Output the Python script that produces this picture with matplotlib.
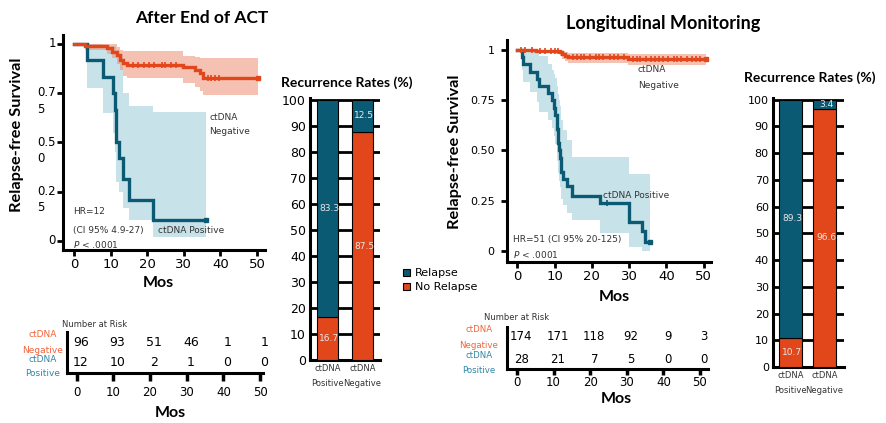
import numpy as np
import matplotlib
matplotlib.use('Agg')
import matplotlib.pyplot as plt

# ---------------- data ----------------
# After End of ACT - ctDNA negative (n=96)
neg_act_t = [0, 3, 8.9, 10.3, 11.7, 12.6, 13.5, 14.4, 29.9, 33.0, 34.4, 35.3]
neg_act_s = [1, 0.99, 0.978, 0.961, 0.944, 0.919, 0.902, 0.893, 0.882, 0.868, 0.851, 0.83]
neg_act_lo = [0.99, 0.97, 0.95, 0.93, 0.9, 0.87, 0.84, 0.826, 0.8, 0.78, 0.76, 0.741]
neg_act_hi = [1, 1, 1, 1, 0.985, 0.97, 0.965, 0.964, 0.94, 0.935, 0.93, 0.927]
neg_act_end = 50.2
neg_act_cens = [16, 17.5, 19, 20.5, 22, 24, 25, 26.5, 28, 36.5, 37.5, 38.5, 39.5]

# After End of ACT - ctDNA positive (n=12)
pos_act_t = [0, 3.6, 8.0, 10.7, 11.1, 11.5, 12.4, 13.5, 15.0, 21.7]
pos_act_s = [1, 0.917, 0.833, 0.75, 0.667, 0.5, 0.42, 0.313, 0.208, 0.107]
pos_act_lo = [1, 0.775, 0.648, 0.55, 0.45, 0.30, 0.25, 0.167, 0.107, 0.022]
pos_act_hi = [1, 1, 0.99, 0.99, 0.99, 0.97, 0.95, 0.75, 0.685, 0.656]
pos_act_end = 36.0

# Longitudinal - ctDNA negative (n=174)
neg_lm_t = [0, 5, 11.4, 12.0, 12.8, 13.6, 29.8]
neg_lm_s = [1, 0.995, 0.988, 0.978, 0.97, 0.964, 0.954]
neg_lm_lo = [1, 0.985, 0.97, 0.955, 0.945, 0.935, 0.925]
neg_lm_hi = [1, 1, 1, 0.995, 0.99, 0.985, 0.98]
neg_lm_end = 50.7
neg_lm_cens = [1, 2, 4, 6, 7.5, 9, 10, 11, 15, 16, 17, 18, 19.5, 21, 22, 23, 25,
               26, 27, 28.5, 31, 32, 33, 34.5, 36, 37, 38, 39, 40.5, 42, 43, 44,
               45.5, 47, 48, 49]

# Longitudinal - ctDNA positive (n=28)
pos_lm_t = [0, 1.1, 1.5, 3.3, 5.3, 5.8, 8.1, 9.4, 9.9, 10.2, 10.5, 10.7, 10.9,
            11.0, 11.2, 11.5, 11.6, 11.8, 12.3, 13.2, 14.6, 22.3, 30.1, 33.4, 34.3]
pos_lm_s = [1, 0.964, 0.929, 0.893, 0.857, 0.821, 0.786, 0.75, 0.714, 0.679, 0.643,
            0.607, 0.571, 0.536, 0.5, 0.464, 0.429, 0.393, 0.357, 0.321, 0.275,
            0.24, 0.145, 0.1, 0.045]
pos_lm_lo = [1, 0.9, 0.84, 0.79, 0.74, 0.69, 0.65, 0.61, 0.57, 0.53, 0.49, 0.45, 0.42,
             0.39, 0.35, 0.32, 0.29, 0.26, 0.23, 0.19, 0.154, 0.088, 0.02, 0.0, 0.0]
pos_lm_hi = [1, 1, 1, 1, 0.99, 0.97, 0.93, 0.9, 0.88, 0.86, 0.84, 0.82, 0.8,
             0.78, 0.75, 0.72, 0.69, 0.65, 0.6, 0.55, 0.47, 0.47, 0.385, 0.385, 0.385]
pos_lm_end = 35.7
pos_lm_cens = [24.0]

# recurrence rates (%)
groups = ['ctDNA\nPositive', 'ctDNA\nNegative']
act_relapse = [83.3, 12.5]
act_norelapse = [16.7, 87.5]
lm_relapse = [89.3, 3.4]
lm_norelapse = [10.7, 96.6]

# number at risk
risk_times = [0, 10, 20, 30, 40, 50]
act_risk_neg = [96, 93, 51, 46, 1, 1]
act_risk_pos = [12, 10, 2, 1, 0, 0]
lm_risk_neg = [174, 171, 118, 92, 9, 3]
lm_risk_pos = [28, 21, 7, 5, 0, 0]

act_yticks = [0, 0.25, 0.5, 0.75, 1]
act_yticklabels = ['0', '0.2\n5', '0.5\n0', '0.7\n5', '1']
lm_yticklabels = ['0', '0.25', '0.50', '0.75', '1']

# ---------------- style ----------------
TEAL = '#0b5a73'
ORANGE = '#e2461b'
BLUE_BAND = '#9ccbd9'
RED_BAND = '#ee8f73'
NEG_LBL = '#f0643c'
POS_LBL = '#2f86a6'
GREY = '#333333'
BOLD = 'Lato'

plt.rcParams['font.family'] = ['DejaVu Sans']

W, H = 886, 423
fig = plt.figure(figsize=(W / 100, H / 100), dpi=100)


def px_axes(l, t, r, b):
    return fig.add_axes([l / W, 1 - b / H, (r - l) / W, (b - t) / H])


def ftext(x, y, s, **kw):
    kw.setdefault('va', 'center')
    fig.text(x / W, 1 - y / H, s, **kw)


def style_axes(ax):
    for sp in ['top', 'right']:
        ax.spines[sp].set_visible(False)
    for sp in ['left', 'bottom']:
        ax.spines[sp].set_linewidth(2.2)
        ax.spines[sp].set_color('black')


def km_curve(ax, t, s, lo, hi, t_end, color, band):
    tt = list(t) + [t_end]
    ss = list(s) + [s[-1]]
    ll = list(lo) + [lo[-1]]
    hh = list(hi) + [hi[-1]]
    ax.fill_between(tt, ll, hh, step='post', color=band, alpha=0.55, lw=0, zorder=1)
    ax.step(tt, ss, where='post', color=color, lw=2.4, zorder=3, solid_joinstyle='miter')
    ax.plot([t_end], [s[-1]], marker='s', ms=3, color=color, zorder=4)


def censor(ax, t, s, times, color):
    idx = np.searchsorted(t, times, side='right') - 1
    ax.plot(times, np.array(s)[idx], ls='none', marker='|', ms=4, mew=1.2,
            color=color, zorder=4)


def km_axes(ax, xlim, ylim, xfs):
    style_axes(ax)
    ax.set_xlim(*xlim)
    ax.set_ylim(*ylim)
    ax.set_xticks(risk_times)
    ax.tick_params(axis='both', direction='out', length=4, width=2, pad=2)
    ax.tick_params(axis='x', labelsize=xfs)


def bars(ax, relapse, norelapse, xlim, width, yfs):
    style_axes(ax)
    x = np.arange(len(groups))
    b1 = ax.bar(x, norelapse, width, color=ORANGE, edgecolor='black', lw=0.8, zorder=3)
    b2 = ax.bar(x, relapse, width, bottom=norelapse, color=TEAL, edgecolor='black',
                lw=0.8, zorder=3)
    for xi, r, n in zip(x, relapse, norelapse):
        ax.text(xi + 0.05, n / 2, f'{n:.1f}', ha='center', va='center', color='#e8e8e8',
                fontsize=6.5, zorder=4)
        ax.text(xi + 0.05, n + r / 2, f'{r:.1f}', ha='center', va='center',
                color='#e8e8e8', fontsize=6.5, zorder=4)
    ax.set_xlim(*xlim)
    ax.set_ylim(0, 100.6)
    ax.set_yticks(range(0, 101, 10))
    ax.yaxis.grid(True, color='black', lw=2)
    ax.set_axisbelow(True)
    ax.set_xticks(x)
    ax.set_xticklabels(groups, fontsize=6, linespacing=1.8, color=GREY)
    ax.tick_params(axis='both', length=0, pad=3)
    ax.tick_params(axis='y', labelsize=yfs)
    return b2, b1


def risk_table(ax, xlim, neg, pos, fs, rows, tlen, tpad):
    style_axes(ax)
    ax.set_xlim(*xlim)
    ax.set_ylim(0, 2)
    ax.set_yticks([])
    ax.set_xticks(risk_times)
    ax.tick_params(axis='x', direction='out', length=tlen, width=2.5, pad=tpad,
                   labelsize=8.5)
    for t, a, b in zip(risk_times, neg, pos):
        ax.annotate(str(a), (t, rows[0]), xytext=(3, 0), textcoords='offset points',
                    ha='center', va='center', fontsize=fs)
        ax.annotate(str(b), (t, rows[1]), xytext=(3, 0), textcoords='offset points',
                    ha='center', va='center', fontsize=fs)


# ---------------- After End of ACT ----------------
ax1 = px_axes(63, 35, 265, 250)
km_curve(ax1, pos_act_t, pos_act_s, pos_act_lo, pos_act_hi, pos_act_end, TEAL, BLUE_BAND)
km_curve(ax1, neg_act_t, neg_act_s, neg_act_lo, neg_act_hi, neg_act_end, ORANGE, RED_BAND)
censor(ax1, neg_act_t, neg_act_s, neg_act_cens, ORANGE)
km_axes(ax1, (-3.0, 52.2), (-0.046, 1.046), 9.5)
ax1.set_yticks(act_yticks)
ax1.set_yticklabels([])
for yv, lab in zip(act_yticks, act_yticklabels):
    ax1.annotate(lab, (0, yv), xycoords=ax1.get_yaxis_transform(), xytext=(-5, 5),
                 textcoords='offset points', ha='right', va='top', multialignment='left',
                 fontsize=8.5, linespacing=1.35)

ftext(201.5, 18, 'After End of ACT', ha='center', fontsize=12.5, fontweight='bold',
      family=BOLD)
ftext(17.5, 135, 'Relapse-free Survival', ha='center', rotation=90, fontsize=11.8,
      fontweight='bold', family=BOLD)
ftext(158, 283, 'Mos', ha='center', fontsize=11.5, fontweight='bold', family=BOLD)
ftext(209, 117, 'ctDNA', fontsize=6.5, color=GREY)
ftext(209, 132, 'Negative', fontsize=6.5, color=GREY)
ftext(158, 230, 'ctDNA Positive', fontsize=6.5, color=GREY)
ftext(73, 212, 'HR=12', fontsize=6.5, color=GREY)
ftext(73, 230, '(CI 95% 4.9-27)', fontsize=6.5, color=GREY)
ftext(73, 244, r'$\it{P}$ < .0001', fontsize=6.5, color=GREY)

ax2 = px_axes(310, 98, 380, 360)
h_rel, h_norel = bars(ax2, act_relapse, act_norelapse, (-0.5, 1.5), 0.62, 9)
ftext(347, 83, 'Recurrence Rates (%)', ha='center', fontsize=10, fontweight='bold',
      family=BOLD)

fig.legend([h_rel, h_norel], ['Relapse', 'No Relapse'], loc='center left',
           bbox_to_anchor=(393 / W, 1 - 280 / H), frameon=False, fontsize=8,
           handlelength=0.6, handleheight=0.6, handletextpad=0.5, labelspacing=0.35)

ax3 = px_axes(67, 332, 263, 373)
risk_table(ax3, (-2.65, 50.8), act_risk_neg, act_risk_pos, 9, (1.5, 0.5), 6, 3)
ftext(95, 324, 'Number at Risk', ha='center', fontsize=6, color=GREY)
ftext(43, 334, 'ctDNA', ha='center', fontsize=6.5, color=NEG_LBL)
ftext(43, 350, 'Negative', ha='center', fontsize=6.5, color=NEG_LBL)
ftext(43, 359, 'ctDNA', ha='center', fontsize=6.5, color=POS_LBL)
ftext(43, 373, 'Positive', ha='center', fontsize=6.5, color=POS_LBL)
ftext(170, 413, 'Mos', ha='center', fontsize=11.5, fontweight='bold', family=BOLD)

# ---------------- Longitudinal Monitoring ----------------
ax4 = px_axes(507, 40, 711, 262)
km_curve(ax4, pos_lm_t, pos_lm_s, pos_lm_lo, pos_lm_hi, pos_lm_end, TEAL, BLUE_BAND)
km_curve(ax4, neg_lm_t, neg_lm_s, neg_lm_lo, neg_lm_hi, neg_lm_end, ORANGE, RED_BAND)
censor(ax4, neg_lm_t, neg_lm_s, neg_lm_cens, ORANGE)
censor(ax4, pos_lm_t, pos_lm_s, pos_lm_cens, TEAL)
km_axes(ax4, (-2.8, 52.0), (-0.055, 1.05), 9.5)
ax4.set_yticks(act_yticks)
ax4.set_yticklabels(lm_yticklabels, fontsize=8)
ax4.tick_params(axis='y', pad=5)

ftext(662.7, 23, 'Longitudinal Monitoring', ha='center', fontsize=13,
      fontweight='bold', family=BOLD)
ftext(455.5, 152, 'Relapse-free Survival', ha='center', rotation=90, fontsize=11.8,
      fontweight='bold', family=BOLD)
ftext(614, 297, 'Mos', ha='center', fontsize=11.5, fontweight='bold', family=BOLD)
ftext(638, 70, 'ctDNA', fontsize=6.5, color=GREY)
ftext(638, 86, 'Negative', fontsize=6.5, color=GREY)
ftext(603, 195, 'ctDNA Positive', fontsize=6.5, color=GREY)
ftext(513, 239, 'HR=51 (CI 95% 20-125)', fontsize=6.5, color=GREY)
ftext(513, 255, r'$\it{P}$ < .0001', fontsize=6.5, color=GREY)

ax5 = px_axes(773, 98, 844, 367)
bars(ax5, lm_relapse, lm_norelapse, (-0.506, 1.57), 0.66, 8)
ax5.set_xticklabels(groups, fontsize=6, linespacing=1.9, color=GREY)
ftext(810, 78, 'Recurrence Rates (%)', ha='center', fontsize=10, fontweight='bold',
      family=BOLD)

ax6 = px_axes(507, 327, 708, 369)
risk_table(ax6, (-2.73, 52.2), lm_risk_neg, lm_risk_pos, 8.5, (1.55, 0.45), 4, 1)
ftext(516.7, 318, 'Number at Risk', ha='center', fontsize=6, color=GREY)
ftext(479, 329, 'ctDNA', ha='center', fontsize=6.2, color=NEG_LBL)
ftext(479, 345, 'Negative', ha='center', fontsize=6.2, color=NEG_LBL)
ftext(479, 355, 'ctDNA', ha='center', fontsize=6.2, color=POS_LBL)
ftext(479, 370, 'Positive', ha='center', fontsize=6.2, color=POS_LBL)
ftext(616, 399, 'Mos', ha='center', fontsize=11.5, fontweight='bold', family=BOLD)

fig.savefig('out.png', dpi=100)
